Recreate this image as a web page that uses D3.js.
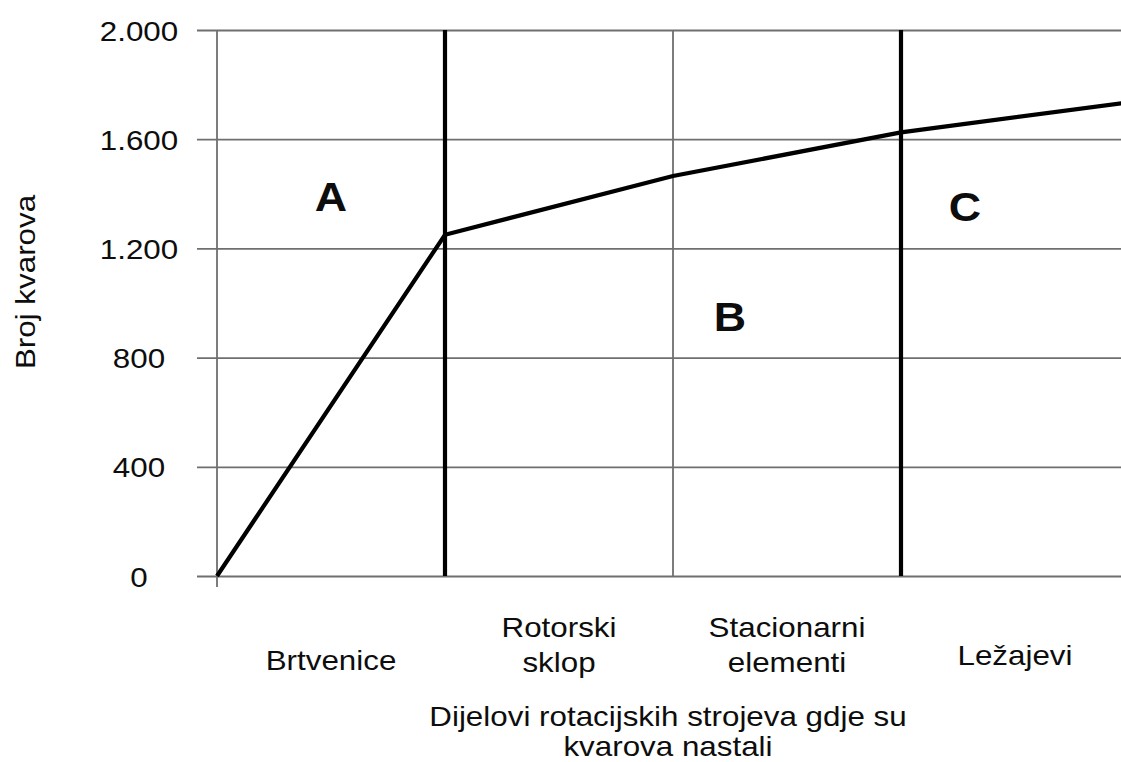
<!DOCTYPE html>
<html>
<head>
<meta charset="utf-8">
<script src="https://cdn.jsdelivr.net/npm/d3@7"></script>
<style>
  html, body { margin: 0; padding: 0; background: #fff; }
  svg { display: block; font-family: "Liberation Sans", Arial, sans-serif; }
</style>
</head>
<body>
<svg id="chart" width="1121" height="762"></svg>
<script>
// Parts of rotating machines where failures occurred
const categories = [["Brtvenice"], ["Rotorski", "sklop"], ["Stacionarni", "elementi"], ["Ležajevi"]];
// Cumulative number of failures at each category boundary
const cumulativeFailures = [0, 1250, 1465, 1625, 1735];
const yTicks = [0, 400, 800, 1200, 1600, 2000];
const zones = [
  { label: "A", pos: 0.5, value: 1390 },
  { label: "B", pos: 2.25, value: 950 },
  { label: "C", pos: 3.28, value: 1350 }
];
const boundaries = [
  { at: 1, strong: true },
  { at: 2, strong: false },
  { at: 3, strong: true }
];
const yTitle = "Broj kvarova";
const xTitle = ["Dijelovi rotacijskih strojeva gdje su", "kvarova nastali"];

const svg = d3.select("#chart");
const STRETCH = 1.12;            // horizontally widened lettering
const plotLeft = 217, plotRight = 1129, plotTop = 30, plotBottom = 576;

const x = d3.scaleLinear().domain([0, categories.length]).range([plotLeft, plotRight]);
const y = d3.scaleLinear().domain([0, 2000]).range([plotBottom, plotTop]);

const hr = d3.formatLocale({ decimal: ",", thousands: ".", grouping: [3], currency: ["", " kn"] });
const fmt = hr.format(",");

const gridColor = "#6f6f6f";
const textColor = "#0d0d0d";

// Y axis with full-width gridlines and short outer ticks
const yAxis = d3.axisLeft(y)
  .tickValues(yTicks)
  .tickFormat(fmt)
  .tickSizeInner(-(plotRight - plotLeft))
  .tickSizeOuter(0);

const gy = svg.append("g").attr("transform", `translate(${plotLeft},0)`).call(yAxis);
gy.select(".domain").remove();
gy.selectAll(".tick line")
  .attr("x1", -20)
  .attr("stroke", gridColor)
  .attr("stroke-width", 1.8);
gy.selectAll(".tick text")
  .attr("x", 0)
  .attr("dy", "0.36em")
  .attr("text-anchor", "middle")
  .attr("transform", `translate(-78,0) scale(${STRETCH},1)`)
  .attr("font-size", 28)
  .attr("font-family", "Liberation Sans, Arial, sans-serif")
  .attr("fill", textColor);

// Left axis line, running slightly below zero
svg.append("line")
  .attr("x1", x(0)).attr("x2", x(0))
  .attr("y1", y(2000)).attr("y2", y(0) + 11)
  .attr("stroke", gridColor).attr("stroke-width", 1.8);

// Category boundaries (thick ones separate the A/B/C zones)
svg.append("g").selectAll("line")
  .data(boundaries)
  .join("line")
  .attr("x1", d => x(d.at)).attr("x2", d => x(d.at))
  .attr("y1", y(2000)).attr("y2", y(0))
  .attr("stroke", d => d.strong ? "#000" : gridColor)
  .attr("stroke-width", d => d.strong ? 4.2 : 1.8);

// Cumulative failure curve
const line = d3.line()
  .x((d, i) => x(i))
  .y(d => y(d));
svg.append("path")
  .datum(cumulativeFailures)
  .attr("d", line)
  .attr("fill", "none")
  .attr("stroke", "#000")
  .attr("stroke-width", 4.2)
  .attr("stroke-linejoin", "miter");

// Helper for widened text
function stretchedText(g, tx, ty, str, size, weight) {
  return g.append("text")
    .attr("transform", `translate(${tx},${ty}) scale(${STRETCH},1)`)
    .attr("text-anchor", "middle")
    .attr("font-size", size)
    .attr("font-weight", weight || "normal")
    .attr("fill", textColor)
    .text(str);
}

// Zone letters
zones.forEach(z => stretchedText(svg, x(z.pos), y(z.value) + 14, z.label, 40, "bold"));

// Category labels centred in each band
const baseLine = [670, 637, 637, 665];
categories.forEach((lines, i) => {
  const cx = (x(i) + x(i + 1)) / 2;
  lines.forEach((t, k) => stretchedText(svg, cx, baseLine[i] + k * 35, t, 28));
});

// Axis titles
xTitle.forEach((t, k) => stretchedText(svg, 668, 726 + k * 30, t, 28));

svg.append("text")
  .attr("transform", `translate(35,282) rotate(-90) scale(${STRETCH},1)`)
  .attr("text-anchor", "middle")
  .attr("font-size", 28)
  .attr("fill", textColor)
  .text(yTitle);
</script>
</body>
</html>
